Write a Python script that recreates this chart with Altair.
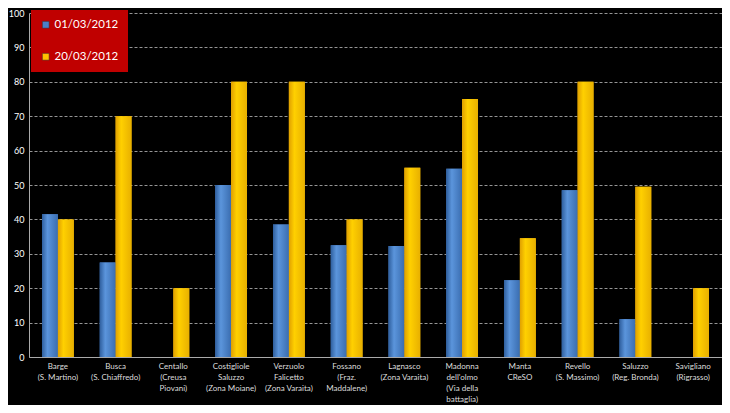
import altair as alt
import pandas as pd

categories = [
    "Barge|(S. Martino)",
    "Busca|(S. Chiaffredo)",
    "Centallo|(Creusa|Piovani)",
    "Costigliole|Saluzzo|(Zona Moiane)",
    "Verzuolo|Falicetto|(Zona Varaita)",
    "Fossano|(Fraz.|Maddalene)",
    "Lagnasco|(Zona Varaita)",
    "Madonna|dell'olmo|(Via della|battaglia)",
    "Manta|CReSO",
    "Revello|(S. Massimo)",
    "Saluzzo|(Reg. Bronda)",
    "Savigliano|(Rigrasso)",
]
series = ["01/03/2012", "20/03/2012"]
values_0103 = [41.5, 27.5, None, 50, 38.5, 32.5, 32.3, 54.7, 22.3, 48.5, 11, None]
values_2003 = [40, 70, 20, 80, 80, 40, 55, 75, 34.5, 80, 49.5, 20]
colors = ["#4a7fc8", "#ffc000"]

rows = []
for c, a, b in zip(categories, values_0103, values_2003):
    if a is not None:
        rows.append({"site": c, "serie": series[0], "value": a})
    if b is not None:
        rows.append({"site": c, "serie": series[1], "value": b})
df = pd.DataFrame(rows)

x_enc = alt.X(
    "site:N",
    sort=categories,
    scale=alt.Scale(domain=categories, paddingInner=0.45, paddingOuter=0.225),
    axis=alt.Axis(
        title=None,
        labelAngle=0,
        labelExpr="split(datum.label, '|')",
        labelColor="#dddddd",
        labelFont="Lato",
        labelFontSize=8,
        labelLineHeight=11,
        labelPadding=5,
        ticks=False,
        domainColor="#aaaaaa",
        grid=False,
        labelBaseline="top",
    ),
)
xoff = alt.XOffset("serie:N", scale=alt.Scale(domain=series))
y_enc = alt.Y(
    "value:Q",
    scale=alt.Scale(domain=[0, 100]),
    axis=alt.Axis(
        title=None,
        values=list(range(0, 101, 10)),
        labelColor="#ffffff",
        labelFont="Lato",
        labelFontSize=9,
        labelPadding=5,
        ticks=False,
        domainColor="#aaaaaa",
        gridColor="#bbbbbb",
        gridDash=[3, 2],
        gridWidth=0.8,
    ),
)

base = alt.Chart(df).mark_bar().encode(
    x=x_enc,
    xOffset=xoff,
    y=y_enc,
    color=alt.Color(
        "serie:N",
        scale=alt.Scale(domain=series, range=colors),
        legend=alt.Legend(
            title=None,
            orient="none",
            legendX=2,
            legendY=-3,
            fillColor="#c00000",
            padding=9,
            rowPadding=19,
            labelColor="#ffffff",
            labelFont="Lato",
            labelFontSize=11.5,
            symbolType="square",
            symbolSize=45,
            symbolStrokeWidth=0.5,
            symbolStrokeColor="#333333",
            labelOffset=3,
        ),
    ),
)

blue_grad = alt.LinearGradient(
    gradient="linear", x1=0, x2=1, y1=0, y2=0,
    stops=[
        alt.GradientStop(offset=0, color="#2f5f9e"),
        alt.GradientStop(offset=0.35, color="#5b95dc"),
        alt.GradientStop(offset=1, color="#3a6db0"),
    ],
)
yellow_grad = alt.LinearGradient(
    gradient="linear", x1=0, x2=1, y1=0, y2=0,
    stops=[
        alt.GradientStop(offset=0, color="#e0a000"),
        alt.GradientStop(offset=0.35, color="#ffd000"),
        alt.GradientStop(offset=1, color="#e8b000"),
    ],
)

blue = alt.Chart(df).transform_filter(alt.datum.serie == series[0]).mark_bar(
    color=blue_grad
).encode(x=x_enc, xOffset=xoff, y=y_enc)
yellow = alt.Chart(df).transform_filter(alt.datum.serie == series[1]).mark_bar(
    color=yellow_grad
).encode(x=x_enc, xOffset=xoff, y=y_enc)

chart = (
    alt.layer(base, blue, yellow)
    .properties(
        width=693,
        height=344,
        padding={"left": 21, "top": 5, "right": 0, "bottom": 48},
        autosize="none",
        background="#000000",
    )
    .configure_view(stroke=None)
)

chart.save("out.html", embed_options={"renderer": "svg", "actions": False})
